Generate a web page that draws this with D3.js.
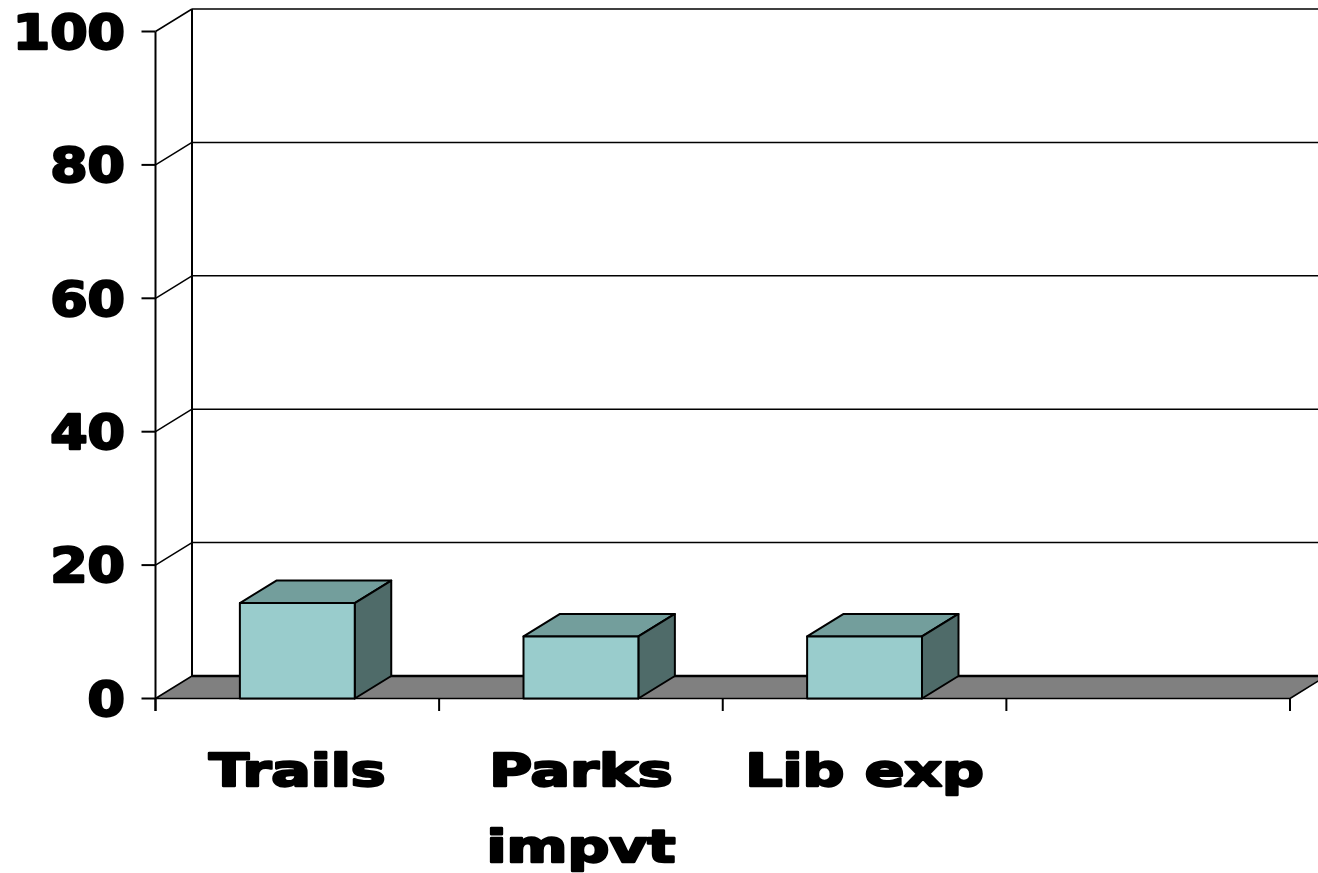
<!DOCTYPE html>
<html>
<head>
<meta charset="utf-8">
<script src="https://cdn.jsdelivr.net/npm/d3@7"></script>
<style>
  html, body { margin: 0; padding: 0; background: #ffffff; }
  svg { display: block; }
</style>
</head>
<body>
<svg id="chart" width="1318" height="873"></svg>
<script>
// ---- data ----
const categories = ["Trails", "Parks impvt", "Lib exp", ""];
const categoryLines = [["Trails"], ["Parks", "impvt"], ["Lib exp"], []];
const values = [14.3, 9.3, 9.3, null];
const yTicks = [0, 20, 40, 60, 80, 100];

// ---- layout ----
const svg = d3.select("#chart");
const W = 1318, H = 873;
const left = 155.5, right = 1290;
const dx = 36.5, dy = -22.5;
const barFrac = 0.405;

const x = d3.scaleBand().domain(categories).range([left, right]).padding(0);
const y = d3.scaleLinear().domain([0, 100]).range([698.5, 31.5]);

const colFront = "#99cccc", colTop = "#739e9c", colSide = "#4f6b69", colFloor = "#808080";

const g = svg.append("g");

// back wall gridlines
g.selectAll("line.grid").data(yTicks).join("line")
  .attr("class", "grid")
  .attr("x1", left + dx).attr("x2", W + 20)
  .attr("y1", d => y(d) + dy).attr("y2", d => y(d) + dy)
  .attr("stroke", "#000").attr("stroke-width", 1.5);

// back wall left edge
g.append("line")
  .attr("x1", left + dx).attr("x2", left + dx)
  .attr("y1", y(100) + dy).attr("y2", y(0) + dy)
  .attr("stroke", "#000").attr("stroke-width", 2);

// side wall diagonals
g.selectAll("line.diag").data(yTicks.filter(d => d > 0)).join("line")
  .attr("class", "diag")
  .attr("x1", left).attr("x2", left + dx)
  .attr("y1", d => y(d)).attr("y2", d => y(d) + dy)
  .attr("stroke", "#000").attr("stroke-width", 1.5);

// floor
const y0 = y(0);
g.append("polygon")
  .attr("points", [[left, y0], [left + dx, y0 + dy], [right + dx, y0 + dy], [right, y0]].map(p => p.join(",")).join(" "))
  .attr("fill", colFloor).attr("stroke", "#000").attr("stroke-width", 1.5).attr("stroke-linejoin", "round");
g.append("line")
  .attr("x1", left + dx).attr("x2", W + 20)
  .attr("y1", y0 + dy).attr("y2", y0 + dy)
  .attr("stroke", "#000").attr("stroke-width", 2.5);

// bars
const barData = categories.map((c, i) => ({ c, v: values[i] })).filter(d => d.v != null);
const bw = x.bandwidth() * barFrac;
const bars = g.selectAll("g.bar").data(barData).join("g").attr("class", "bar");
const pts = a => a.map(p => p.join(",")).join(" ");
bars.each(function(d) {
  const x0 = x(d.c) + (x.bandwidth() - bw) / 2, x1 = x0 + bw;
  const yt = y(d.v);
  const s = d3.select(this);
  s.append("polygon").attr("points", pts([[x0, yt], [x0 + dx, yt + dy], [x1 + dx, yt + dy], [x1, yt]]))
    .attr("fill", colTop);
  s.append("polygon").attr("points", pts([[x1, yt], [x1 + dx, yt + dy], [x1 + dx, y0 + dy], [x1, y0]]))
    .attr("fill", colSide);
  s.append("rect").attr("x", x0).attr("y", yt).attr("width", bw).attr("height", y0 - yt)
    .attr("fill", colFront);
  s.selectAll("*").attr("stroke", "#000").attr("stroke-width", 2).attr("stroke-linejoin", "round");
});

// front y axis
g.append("line")
  .attr("x1", left).attr("x2", left).attr("y1", y(100)).attr("y2", y0 + 12.5)
  .attr("stroke", "#000").attr("stroke-width", 2);
g.selectAll("line.ytick").data(yTicks).join("line")
  .attr("class", "ytick")
  .attr("x1", left - 14).attr("x2", left)
  .attr("y1", d => y(d)).attr("y2", d => y(d))
  .attr("stroke", "#000").attr("stroke-width", 2);

// x ticks
const xTickPos = categories.map(c => x(c)).concat([right]);
g.selectAll("line.xtick").data(xTickPos).join("line")
  .attr("class", "xtick")
  .attr("x1", d => d).attr("x2", d => d)
  .attr("y1", y0).attr("y2", y0 + 12.5)
  .attr("stroke", "#000").attr("stroke-width", 2);

// y tick labels
const fontFam = "'DejaVu Sans', 'Liberation Sans', Arial, sans-serif";
const yl = g.selectAll("text.ylab").data(yTicks).join("text")
  .attr("class", "ylab")
  .attr("x", 125).attr("y", d => y(d))
  .attr("dy", "0.36em")
  .attr("text-anchor", "end")
  .attr("font-family", fontFam).attr("font-weight", "bold").attr("font-size", 48)
  .attr("fill", "#000").attr("stroke", "#000").attr("stroke-width", 2.4)
  .attr("stroke-linejoin", "round")
  .text(d => d);
yl.each(function() {
  const n = this.getComputedTextLength();
  d3.select(this).attr("textLength", n * 1.12).attr("lengthAdjust", "spacingAndGlyphs");
});

// category labels
const lineBase = [786, 862];
const xl = g.selectAll("g.xlab").data(categories.map((c, i) => ({ c, lines: categoryLines[i] }))).join("g")
  .attr("class", "xlab");
xl.each(function(d) {
  const cx = x(d.c) + x.bandwidth() / 2;
  d.lines.forEach((t, j) => {
    const tx = d3.select(this).append("text")
      .attr("x", cx).attr("y", lineBase[j])
      .attr("text-anchor", "middle")
      .attr("font-family", fontFam).attr("font-weight", "bold").attr("font-size", 45)
      .attr("fill", "#000").attr("stroke", "#000").attr("stroke-width", 2.4)
      .attr("stroke-linejoin", "round")
      .text(t);
    const n = tx.node().getComputedTextLength();
    tx.attr("textLength", n * 1.3).attr("lengthAdjust", "spacingAndGlyphs");
  });
});
</script>
</body>
</html>
